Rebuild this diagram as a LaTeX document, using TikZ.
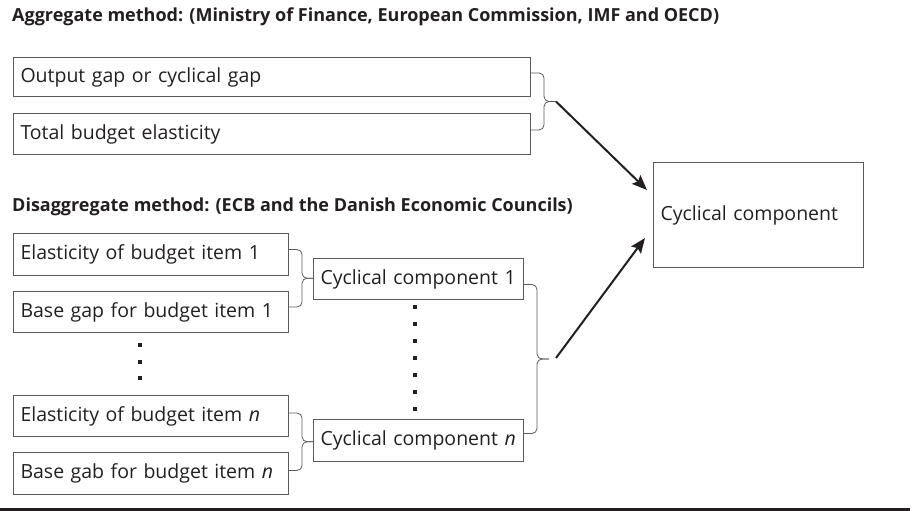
\documentclass[tikz,border=0pt]{standalone}
\usepackage{fontspec}
\setmainfont{Open Sans}
\usetikzlibrary{arrows.meta,positioning,calc}
\definecolor{inkgray}{HTML}{231F20}
\definecolor{boxgray}{HTML}{5A5A5A}

\begin{document}
\begin{tikzpicture}[x=1pt,y=-1pt,
  font=\fontsize{19.5}{22}\selectfont, >=Stealth, color=inkgray,
  ttl/.style={font=\fontsize{18}{21}\selectfont\bfseries, anchor=base west, inner sep=0pt},
  pbox/.style={draw=boxgray, line width=1pt, anchor=north west, inner xsep=7pt, inner ysep=0pt, align=left},
  brc/.style={draw=boxgray, line width=0.8pt, rounded corners=5pt},
  flowarr/.style={-{Stealth[length=15pt,width=12pt,inset=2.5pt]}, line width=2pt, color=inkgray},
  dotsq/.style={fill=inkgray},
]
\useasboundingbox (0,0) rectangle (918,511);
% aggregate method
\node[ttl] (aggttl) at (12,22) {Aggregate method: (Ministry of Finance, European Commission, IMF and OECD)};
\node[pbox,text width=503pt,minimum height=39pt] (outgap) at (13,57) {Output gap or cyclical gap};
\node[pbox,text width=503pt,minimum height=41pt] (totel) at (13,113) {Total budget elasticity};
\coordinate (aggtop) at ($(outgap.east)+(0,-4)$);
\coordinate (aggbot) at ($(totel.east)+(0,-4)$);
\coordinate (aggtip) at ($(aggtop)!0.5!(aggbot)+(25,0)$);
% result
\node[pbox,text width=196pt,minimum height=105pt] (cyc) at (653,162) {Cyclical component};
% disaggregate method
\node[ttl] (disttl) at (12,211) {Disaggregate method: (ECB and the Danish Economic Councils)};
\node[pbox,text width=261pt,minimum height=42pt] (el1) at (13,233) {Elasticity of budget item 1};
\node[pbox,text width=261pt,minimum height=41pt] (bg1) at (13,291) {Base gap for budget item 1};
\node[pbox,text width=261pt,minimum height=41pt] (eln) at (13,395) {Elasticity of budget item \textit{n}};
\node[pbox,text width=261pt,minimum height=42pt] (bgn) at (13,452) {Base gab for budget item \textit{n}};
\node[pbox,text width=196pt,minimum height=41pt] (cc1) at (313,258) {Cyclical component 1};
\node[pbox,text width=196pt,minimum height=42pt] (ccn) at (313,419) {Cyclical component \textit{n}};
\coordinate (onetop) at ($(el1.east)+(0,-5)$);
\coordinate (onebot) at ($(bg1.east)+(0,-5)$);
\coordinate (onetip) at ($(onetop)!0.5!(onebot)+(25,0)$);
\coordinate (ntop) at ($(eln.east)+(0,-3)$);
\coordinate (nbot) at ($(bgn.east)+(0,-3)$);
\coordinate (ntip) at ($(ntop)!0.5!(nbot)+(25,0)$);
\coordinate (distop) at ($(cc1.east)+(0,5.5)$);
\coordinate (disbot) at ($(ccn.east)+(0,-7)$);
\coordinate (distip) at ($(distop)!0.5!(disbot)+(25,0)$);
% braces
\foreach \a/\b/\t in {aggtop/aggbot/aggtip,onetop/onebot/onetip,ntop/nbot/ntip,distop/disbot/distip}{
  \draw[brc] (\a) -| ($(\t)+(-12,0)$) -- (\t);
  \draw[brc] (\b) -| ($(\t)+(-12,0)$) -- (\t);
}
% ellipsis dots
\foreach \y in {345,362,378} \fill[dotsq] (138,\y-2) rectangle ++(4,4);
\foreach \y in {307,324,341,358,375,392,409} \fill[dotsq] (413,\y-2) rectangle ++(4,4);
% arrows into the result
\coordinate (disout) at ($(distip)+(7,-1)$);
\coordinate (cycin1) at ($(cyc.north west)+(-6,28)$);
\coordinate (cycin2) at ($(cyc.south west)+(-8,-30)$);
\draw[flowarr] (aggtip) -- (cycin1);
\draw[flowarr] (disout) -- (cycin2);
% bottom rule
\draw[line width=2.5pt, color=inkgray] (0,509.5) -- (910,509.5);
\end{tikzpicture}
\end{document}
